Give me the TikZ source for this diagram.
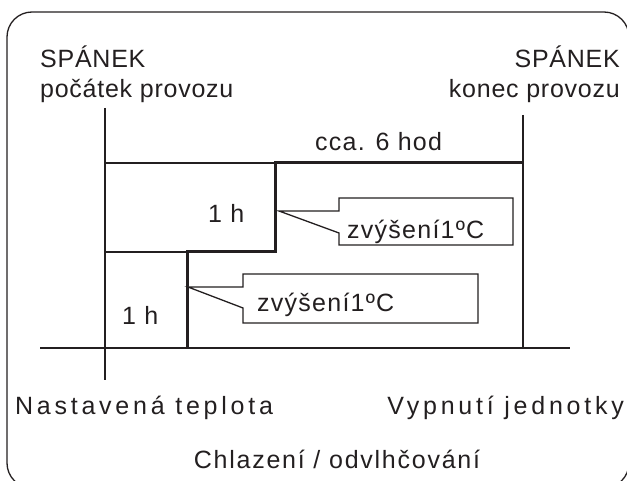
\documentclass[tikz,border=0pt]{standalone}
\usepackage{fontspec}
\setmainfont{Liberation Sans}
\newfontfamily\hdfont[LetterSpace=3]{Liberation Sans}
\newfontfamily\lblfont[LetterSpace=5]{Liberation Sans}
\newfontfamily\widefont[LetterSpace=15]{Liberation Sans}
\newfontfamily\midfont[LetterSpace=7]{Liberation Sans}
\definecolor{ink}{HTML}{231F20}
\begin{document}
\begin{tikzpicture}[x=1pt,y=-1pt,
  thinline/.style={draw=ink,line width=1.3pt},
  thickline/.style={draw=ink,line width=3pt},
  hdlbl/.style={inner sep=0pt,text=ink,font=\fontsize{25}{30}\selectfont\hdfont},
  lbl/.style={inner sep=0pt,text=ink,font=\fontsize{25}{30}\selectfont\lblfont},
  widelbl/.style={inner sep=0pt,text=ink,font=\fontsize{25}{30}\selectfont\widefont},
  midlbl/.style={inner sep=0pt,text=ink,font=\fontsize{25}{30}\selectfont\midfont},
  callout/.style={draw=ink,line width=1.3pt,fill=white}]
\useasboundingbox (0,0) rectangle (627,481);
\begin{scope}
\clip (0,0) rectangle (627,481);
\draw[ink,line width=1.3pt,rounded corners=25pt] (7,12) rectangle (629,488);
\end{scope}
% coordinates
\coordinate (Ltop) at (105,108);
\coordinate (Lbot) at (105,380);
\coordinate (Rtop) at (523,115);
\coordinate (Rbot) at (523,348);
\coordinate (Lhi) at (105,163);
\coordinate (S1) at (275,163);
\coordinate (Rhi) at (523,163);
\coordinate (S2) at (275,252);
\coordinate (S3) at (187,252);
\coordinate (Lmid) at (105,252);
\coordinate (S4) at (187,348);
\coordinate (Ax0) at (40,348);
\coordinate (Ax1) at (570,348);
% lines
\draw[thinline] (Ltop) -- (Lbot);
\draw[thinline] (Rtop) -- (Rbot);
\draw[thinline] (Lhi) -- (S1);
\draw[thinline] (Lmid) -- (S3);
\draw[thinline] (Ax0) -- (Ax1);
\draw[thickline,line join=miter] (Rhi) -- (S1) -- (S2) -- (S3) -- (S4);
% callouts
\coordinate (T1) at (279,211);
\coordinate (T2) at (188,287);
\draw[callout] (339,198) -- (513,198) -- (513,245) -- (339,245) -- (339,233) -- (T1) -- (339,211) -- cycle;
\draw[callout] (243,274) -- (478,274) -- (478,323) -- (243,323) -- (243,308) -- (T2) -- (243,287) -- cycle;
% texts
\node[hdlbl,anchor=base west] (spl1) at (40,68) {SPÁNEK};
\node[hdlbl,anchor=base west] (spl2) at (40,98) {počátek provozu};
\node[hdlbl,anchor=base east] (spr1) at (620,68) {SPÁNEK};
\node[hdlbl,anchor=base east] (spr2) at (620,98) {konec provozu};
\node[lbl,anchor=base west] (cca) at (315,151) {cca. 6 hod};
\node[lbl,anchor=base west] (h1) at (208,223) {1 h};
\node[lbl,anchor=base west] (h2) at (122,325) {1 h};
\node[lbl,anchor=base west] (z1) at (347,239) {zvýšení1ºC};
\node[lbl,anchor=base west] (z2) at (257,312) {zvýšení1ºC};
\node[widelbl,anchor=base west] (nast) at (15,414) {Nastavená teplota};
\node[widelbl,anchor=base east] (vyp) at (624,414) {Vypnutí jednotky};
\node[midlbl,anchor=base] (chl) at (337,468) {Chlazení / odvlhčování};
\end{tikzpicture}
\end{document}
